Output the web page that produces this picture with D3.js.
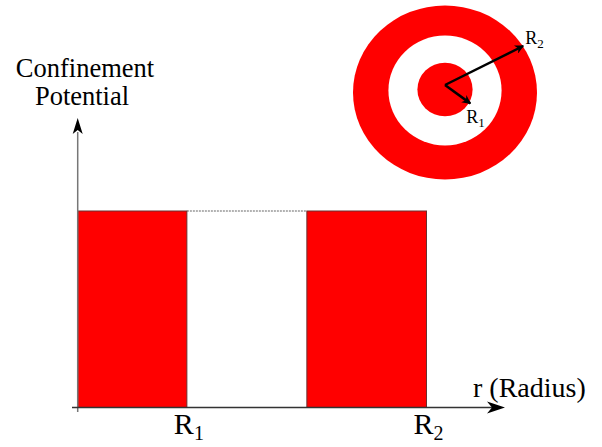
<!DOCTYPE html>
<html>
<head>
<meta charset="utf-8">
<script src="https://cdn.jsdelivr.net/npm/d3@7"></script>
<style>
  html, body { margin: 0; padding: 0; background: #fff; }
  svg { display: block; }
  svg text { font-family: "Liberation Serif", "Times New Roman", "DejaVu Serif", serif; }
</style>
</head>
<body>
<svg id="chart" width="602" height="447"></svg>
<script>
// ---- data ----
// radial boundaries of the confinement regions (in units of R2)
const boundaries = [0, 0.313, 0.657, 1.0];
// which regions carry the potential (red = barrier)
const regionFill = [true, false, true];
// potential height (normalized)
const potentialHeight = 1.0;
// tick labels on the r-axis
const tickValues = [0.313, 1.0];
const tickMain = ["R", "R"];
const tickSub = ["1", "2"];
// target picture: ring radii (outer to inner, in units of R2)
const ringRadii = [1.0, 0.615, 0.30];
const ringFill = ["#ff0000", "#ffffff", "#ff0000"];
// arrows in the target picture: angle (deg, screen) and length in units of R2
const arrowAngles = [-26.5, 36];
const arrowLengths = [0.95, 0.34];
const arrowLabelsSub = ["2", "1"];

// ---- drawing ----
const FONT = "'Liberation Serif', 'Times New Roman', 'DejaVu Serif', serif";
const svg = d3.select("#chart");
const defs = svg.append("defs");

const x = d3.scaleLinear().domain([0, 1]).range([77.7, 426.5]);
const y = d3.scaleLinear().domain([0, potentialHeight]).range([407.5, 211]);

const regions = d3.range(boundaries.length - 1).map(i => ({
  start: boundaries[i], end: boundaries[i + 1], fill: regionFill[i]
}));

// thin grey top line across the white gap
svg.append("line")
  .attr("x1", x(boundaries[1])).attr("x2", x(boundaries[2]))
  .attr("y1", y(potentialHeight)).attr("y2", y(potentialHeight))
  .attr("stroke", "#999").attr("stroke-width", 1.3)
  .attr("stroke-dasharray", "2,1");

svg.selectAll("rect.region")
  .data(regions.filter(d => d.fill))
  .join("rect")
  .attr("class", "region")
  .attr("x", d => x(d.start))
  .attr("y", y(potentialHeight))
  .attr("width", d => x(d.end) - x(d.start))
  .attr("height", y(0) - y(potentialHeight))
  .attr("fill", "#ff0000")
  .attr("stroke", "#6a3030")
  .attr("stroke-width", 1);

// y axis
svg.append("line")
  .attr("x1", x(0)).attr("x2", x(0))
  .attr("y1", 412).attr("y2", 132)
  .attr("stroke", "#777").attr("stroke-width", 1.5);
svg.append("path")
  .attr("d", `M${x(0)},118 L${x(0) + 5},134 L${x(0)},130 L${x(0) - 5},134 Z`)
  .attr("fill", "#000");

// x axis
svg.append("line")
  .attr("x1", 72).attr("x2", 492)
  .attr("y1", y(0)).attr("y2", y(0))
  .attr("stroke", "#333").attr("stroke-width", 1.5);
svg.append("path")
  .attr("d", `M505,${y(0)} L487,${y(0) - 6} L492,${y(0)} L487,${y(0) + 6} Z`)
  .attr("fill", "#000");

// axis tick labels R1, R2
const tickG = svg.selectAll("text.tick")
  .data(tickValues)
  .join("text")
  .attr("class", "tick")
  .attr("x", d => x(d) + 2)
  .attr("y", 434)
  .attr("text-anchor", "middle")
  .attr("font-family", FONT)
  .attr("font-size", 30)
  .attr("fill", "#000");
tickG.append("tspan").text((d, i) => tickMain[i]);
tickG.append("tspan").attr("dy", 6).attr("font-size", 20).text((d, i) => tickSub[i]);

// axis titles
svg.append("text")
  .attr("x", 85).attr("y", 77)
  .attr("text-anchor", "middle")
  .attr("font-family", FONT)
  .attr("font-size", 26.5)
  .attr("fill", "#000")
  .text("Confinement");
svg.append("text")
  .attr("x", 82).attr("y", 105)
  .attr("text-anchor", "middle")
  .attr("font-family", FONT)
  .attr("font-size", 26.5)
  .attr("fill", "#000")
  .text("Potential");
svg.append("text")
  .attr("x", 473).attr("y", 397)
  .attr("font-family", FONT)
  .attr("font-size", 28)
  .attr("fill", "#000")
  .text("r (Radius)");

// ---- target picture ----
const cx = 445, cy = 91;
const rx = d3.scaleLinear().domain([0, 1]).range([0, 92]);
const ry = d3.scaleLinear().domain([0, 1]).range([0, 87]);

svg.selectAll("ellipse.ring")
  .data(ringRadii)
  .join("ellipse")
  .attr("class", "ring")
  .attr("cx", cx).attr("cy", (d, i) => cy + (i === 0 ? 1.5 : (i === 1 ? -0.5 : -1.5)))
  .attr("rx", d => rx(d))
  .attr("ry", d => (d === 1 ? ry(d) : rx(d) * 0.97))
  .attr("fill", (d, i) => ringFill[i]);

defs.append("marker")
  .attr("id", "headA")
  .attr("viewBox", "0 0 10 10")
  .attr("refX", 9).attr("refY", 5)
  .attr("markerWidth", 9).attr("markerHeight", 9)
  .attr("markerUnits", "userSpaceOnUse")
  .attr("orient", "auto")
  .append("path")
  .attr("d", "M0,0 L10,5 L0,10 L3,5 Z")
  .attr("fill", "#000");

const ox = 445, oy = 85;
const arrows = arrowAngles.map((a, i) => {
  const rad = a * Math.PI / 180;
  return {
    x2: ox + Math.cos(rad) * rx(arrowLengths[i]),
    y2: oy + Math.sin(rad) * rx(arrowLengths[i]),
    sub: arrowLabelsSub[i]
  };
});

svg.selectAll("line.arrow")
  .data(arrows)
  .join("line")
  .attr("class", "arrow")
  .attr("x1", ox).attr("y1", oy)
  .attr("x2", d => d.x2).attr("y2", d => d.y2)
  .attr("stroke", "#000").attr("stroke-width", 2.5)
  .attr("marker-end", "url(#headA)");

const arrowLab = svg.selectAll("text.alab")
  .data(arrows)
  .join("text")
  .attr("class", "alab")
  .attr("x", (d, i) => i === 0 ? d.x2 + 2 : d.x2 - 4)
  .attr("y", (d, i) => i === 0 ? d.y2 - 2 : d.y2 + 20)
  .attr("font-family", FONT)
  .attr("font-size", 18)
  .attr("fill", "#000");
arrowLab.append("tspan").text("R");
arrowLab.append("tspan").attr("dy", 4).attr("font-size", 13).text(d => d.sub);
</script>
</body>
</html>
